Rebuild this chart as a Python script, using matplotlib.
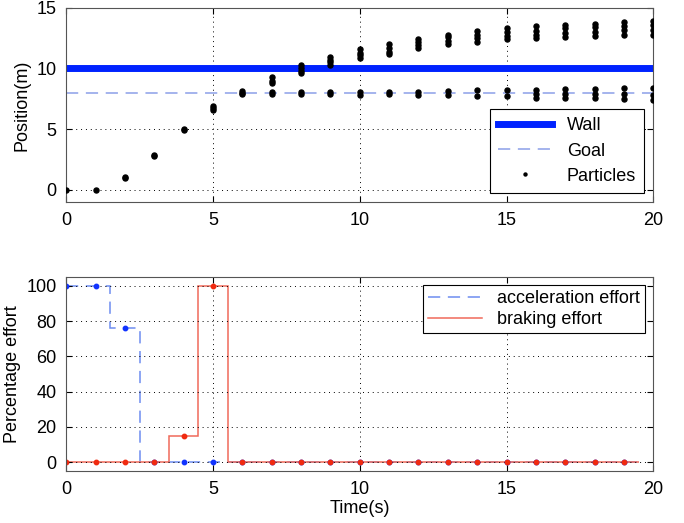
import matplotlib
matplotlib.use("Agg")
import matplotlib.pyplot as plt
import numpy as np

plt.rcParams['font.family'] = ['Liberation Sans', 'DejaVu Sans']

# --- top panel data: particle positions at each time step ---
part_t = list(range(0, 21))
particles = [
    [0.0],
    [0.0],
    [0.95, 1.05],
    [2.75, 2.85],
    [4.95, 5.05],
    [6.6, 6.75, 6.9],
    [7.9, 8.0, 8.15],
    [7.9, 8.05, 8.8, 9.0, 9.3],
    [7.9, 8.05, 9.6, 9.8, 10.0, 10.25],
    [7.9, 8.1, 10.3, 10.5, 10.7, 10.95],
    [7.85, 8.1, 10.9, 11.1, 11.3, 11.6],
    [7.9, 8.1, 11.2, 11.4, 11.7, 12.0],
    [7.85, 8.1, 11.7, 11.9, 12.2, 12.4],
    [7.8, 8.15, 12.0, 12.3, 12.6, 12.8],
    [7.75, 8.2, 12.2, 12.5, 12.8, 13.1],
    [7.7, 8.2, 12.4, 12.7, 13.0, 13.3],
    [7.6, 7.9, 8.25, 12.5, 12.8, 13.1, 13.5],
    [7.6, 7.9, 8.3, 12.6, 12.9, 13.3, 13.6],
    [7.55, 7.9, 8.3, 12.7, 13.0, 13.4, 13.7],
    [7.5, 7.9, 8.35, 12.8, 13.2, 13.5, 13.8],
    [7.4, 7.8, 8.4, 12.8, 13.2, 13.6, 13.9],
]
wall = 10
goal = 8

# --- bottom panel data: control effort ---
eff_t = list(range(0, 20))
accel = [100, 100, 76, 0, 0, 0, 0, 0, 0, 0, 0, 0, 0, 0, 0, 0, 0, 0, 0, 0]
brake = [0, 0, 0, 0, 15, 100, 0, 0, 0, 0, 0, 0, 0, 0, 0, 0, 0, 0, 0, 0]

FS = 13


def style_axes(ax):
    ax.grid(True, color='k', linestyle=(0, (1, 4)), linewidth=0.7)
    ax.tick_params(direction='in', top=True, right=True, length=4,
                   labelsize=FS, pad=7)
    for s in ax.spines.values():
        s.set_color('#555555')
        s.set_linewidth(0.8)


fig = plt.figure(figsize=(6.84, 5.23), dpi=100)
ax1 = fig.add_axes([0.097, 0.614, 0.858, 0.371])
ax2 = fig.add_axes([0.097, 0.0995, 0.858, 0.371])

# top panel
ax1.axhline(wall, color='#0022ff', linewidth=5, label='Wall', zorder=2)
ax1.axhline(goal, color='#8c9fe8', linewidth=1.1, linestyle=(0, (8, 5)),
            label='Goal', zorder=2)
px = [t for t, ps in zip(part_t, particles) for _ in ps]
py = [p for ps in particles for p in ps]
ax1.plot(px, py, 'o', color='k', markersize=3.6, linestyle='none',
         label='Particles', zorder=3)
ax1.set_xlim(0, 20)
ax1.set_ylim(-1, 15)
ax1.set_xticks([0, 5, 10, 15, 20])
ax1.set_yticks([0, 5, 10, 15])
ax1.set_ylabel('Position(m)', fontsize=FS, labelpad=4)
style_axes(ax1)
leg1 = ax1.legend(loc='lower right', fontsize=FS, fancybox=False,
                  edgecolor='k', framealpha=1, handlelength=3,
                  borderaxespad=0.5, markerscale=0.6, labelspacing=0.45,
                  borderpad=0.45)
leg1.get_frame().set_linewidth(0.8)

# bottom panel
t = np.array(eff_t, dtype=float)
edges = np.r_[t[0], t[1:] - 0.5, t[-1] + 0.5]
ax2.stairs(accel, edges, color='#6d8df0', linewidth=1.1,
           linestyle=(0, (8, 5)), baseline=None, label='acceleration effort')
ax2.plot(eff_t, accel, 'o', color='#1133ff', markersize=3.2)
ax2.stairs(brake, edges, color='#f06a5a', linewidth=1.1,
           baseline=None, label='braking effort')
ax2.plot(eff_t, brake, 'o', color='#f02a10', markersize=3.2)
ax2.set_xlim(0, 20)
ax2.set_ylim(-5, 105)
ax2.set_xticks([0, 5, 10, 15, 20])
ax2.set_yticks([0, 20, 40, 60, 80, 100])
ax2.set_xlabel('Time(s)', fontsize=FS, labelpad=2)
ax2.set_ylabel('Percentage effort', fontsize=FS, labelpad=4)
style_axes(ax2)
leg2 = ax2.legend(loc='upper right', fontsize=FS, fancybox=False,
                  edgecolor='k', framealpha=1, handlelength=3,
                  borderaxespad=0.45, labelspacing=0.2, borderpad=0.3)
leg2.get_frame().set_linewidth(0.8)

fig.savefig('out.png', dpi=100)
